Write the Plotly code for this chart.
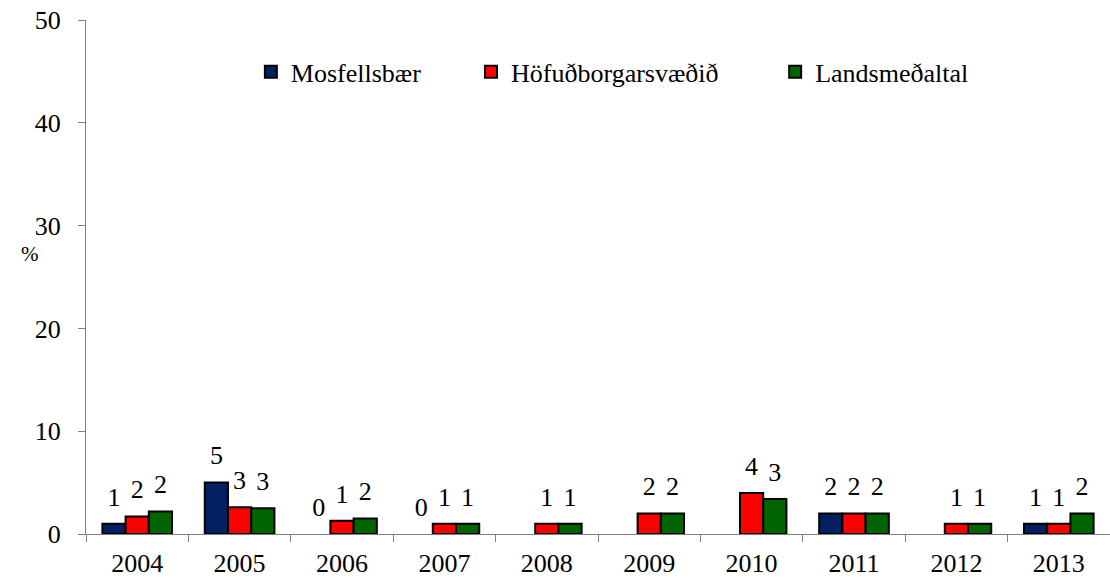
import plotly.graph_objects as go

years = ["2004", "2005", "2006", "2007", "2008", "2009", "2010", "2011", "2012", "2013"]

mosfellsbaer = [1.0, 5.0, 0.0, 0.0, None, None, None, 2.0, None, 1.0]
hofudborg = [1.7, 2.6, 1.3, 1.0, 1.0, 2.0, 4.0, 2.0, 1.0, 1.0]
landsmedaltal = [2.2, 2.5, 1.5, 1.0, 1.0, 2.0, 3.4, 2.0, 1.0, 2.0]

mos_labels = ["1", "5", "0", "0", "", "", "", "2", "", "1"]
hof_labels = ["2", "3", "1", "1", "1", "2", "4", "2", "1", "1"]
lan_labels = ["2", "3", "2", "1", "1", "2", "3", "2", "1", "2"]

series = [
    ("Mosfellsbær", mosfellsbaer, mos_labels, "#002060", "legend"),
    ("Höfuðborgarsvæðið", hofudborg, hof_labels, "#ff0000", "legend2"),
    ("Landsmeðaltal", landsmedaltal, lan_labels, "#006400", "legend3"),
]

font = "Liberation Serif, Tinos, Nimbus Roman, FreeSerif, Noto Serif, DejaVu Serif"

fig = go.Figure()

for i, (name, vals, labels, color, leg) in enumerate(series):
    # no outline on zero bars (excel doesn't draw them)
    widths = [2 if v else 0 for v in vals]
    fig.add_trace(go.Bar(
        x=years, y=vals, name=name,
        marker=dict(color=color, line=dict(color="black", width=widths)),
        offsetgroup=str(i), legend=leg,
    ))

# value labels above the bars
for i, (name, vals, labels, color, leg) in enumerate(series):
    fig.add_trace(go.Scatter(
        x=years, y=[v if v is not None else 0 for v in vals],
        text=labels, mode="markers+text", textposition="top center",
        marker=dict(size=17, opacity=0),
        textfont=dict(family=font, size=26, color="black"),
        offsetgroup=str(i), showlegend=False, hoverinfo="skip",
    ))

fig.update_layout(
    width=1110, height=578,
    margin=dict(l=86, r=0, t=20, b=44),
    barmode="group", scattermode="group",
    bargap=0.32, bargroupgap=0,
    plot_bgcolor="white", paper_bgcolor="white",
    font=dict(family=font, size=26, color="black"),
)

leg_common = dict(orientation="h", yanchor="middle", y=0.899, xanchor="left",
                  bgcolor="rgba(0,0,0,0)", font=dict(family=font, size=26),
                  itemwidth=30)
fig.update_layout(
    legend=dict(x=0.161, **leg_common),
    legend2=dict(x=0.376, **leg_common),
    legend3=dict(x=0.673, **leg_common),
)

fig.update_xaxes(
    showline=True, linecolor="#808080", linewidth=1,
    ticks="outside", tickson="boundaries", ticklen=7, tickcolor="#808080",
    showgrid=False, tickfont=dict(family=font, size=26), automargin=False,
    ticklabelstandoff=6,
)
fig.update_yaxes(
    range=[0, 50], dtick=10, showline=True, linecolor="#808080", linewidth=1,
    ticks="outside", ticklen=7, tickcolor="#808080",
    showgrid=False, zeroline=False, tickfont=dict(family=font, size=26),
    automargin=False, ticklabelstandoff=12,
)

fig.add_annotation(
    text="%", xref="paper", yref="paper", x=-0.065, y=0.545,
    showarrow=False, font=dict(family=font, size=21),
)

# drop the default 8px body margin so the figure fills the window
fig.write_html("out.html", config={"displayModeBar": False},
               post_script="document.body.style.margin='0';")
